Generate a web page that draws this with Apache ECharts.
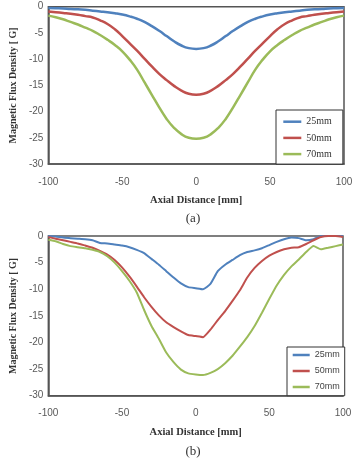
<!DOCTYPE html>
<html><head><meta charset="utf-8">
<script src="https://cdn.jsdelivr.net/npm/echarts@6/dist/echarts.min.js"></script>
<style>html,body{margin:0;padding:0;background:#fff}#c{width:356px;height:460px}</style>
</head><body><div id="c"></div>
<script>
// Axial positions [mm]
const xs = [-100,-95,-90,-85,-80,-75,-70,-65,-60,-55,-50,-45,-40,-35,-30,-25,-20,-15,-10,-5,0,5,10,15,20,25,30,35,40,45,50,55,60,65,70,75,80,85,90,95,100];
const xTicks = [-100,-50,0,50,100];
const yTicks = [0,-5,-10,-15,-20,-25,-30];
const names = ['25mm','50mm','70mm'];

// (a) simulated
const simA25 = [-0.25,-0.3,-0.35,-0.45,-0.5,-0.6,-0.75,-0.9,-1.05,-1.25,-1.5,-1.85,-2.3,-2.9,-3.7,-4.6,-5.6,-6.6,-7.4,-7.9,-8.05,-7.9,-7.4,-6.6,-5.6,-4.6,-3.7,-2.9,-2.3,-1.85,-1.5,-1.25,-1.05,-0.9,-0.75,-0.6,-0.5,-0.45,-0.35,-0.3,-0.25];
const simA50 = [-0.9,-1.05,-1.2,-1.35,-1.55,-1.8,-2.05,-2.6,-3.3,-4.3,-5.6,-7.0,-8.4,-9.9,-11.4,-12.8,-14.0,-15.1,-16.0,-16.6,-16.8,-16.6,-16.0,-15.1,-14.0,-12.8,-11.4,-9.9,-8.4,-7.0,-5.6,-4.3,-3.3,-2.6,-2.05,-1.8,-1.55,-1.35,-1.2,-1.05,-0.9];
const simA70 = [-1.7,-2.0,-2.4,-2.9,-3.4,-4.0,-4.6,-5.4,-6.3,-7.3,-8.5,-10.1,-12.0,-14.4,-16.8,-19.2,-21.4,-23.1,-24.3,-25.0,-25.2,-25.0,-24.3,-23.1,-21.4,-19.2,-16.8,-14.4,-12.0,-10.1,-8.5,-7.3,-6.3,-5.4,-4.6,-4.0,-3.4,-2.9,-2.4,-2.0,-1.7];

// (b) measured
const meas25 = [0,-0.1,-0.3,-0.4,-0.5,-0.6,-0.8,-1.3,-1.4,-1.6,-1.8,-2.1,-2.6,-3.2,-4.3,-5.4,-6.6,-7.8,-8.9,-9.6,-9.8,-10.0,-9.0,-6.6,-5.4,-4.5,-3.6,-3.0,-2.7,-2.3,-1.7,-1.1,-0.6,-0.3,-0.4,-0.8,-0.6,0,0,0,0];
const meas50 = [-0.2,-0.5,-0.8,-1.1,-1.4,-1.8,-2.2,-2.8,-3.5,-4.5,-5.9,-7.6,-9.5,-11.5,-13.3,-14.9,-16.2,-17.1,-17.9,-18.6,-18.8,-19.0,-17.6,-15.8,-14.1,-12.2,-10.2,-7.8,-6.0,-4.7,-3.7,-3.0,-2.5,-2.2,-2.1,-1.5,-0.8,-0.2,0,0,-0.2];
const meas70 = [-0.7,-1.0,-1.5,-1.9,-2.1,-2.3,-2.6,-3.0,-3.8,-5.0,-6.6,-8.4,-10.6,-13.9,-16.9,-19.3,-21.9,-23.7,-25.1,-25.8,-26.0,-26.1,-25.7,-25.0,-23.9,-22.5,-20.8,-19.0,-16.9,-14.4,-11.8,-9.3,-7.3,-5.7,-4.4,-3.0,-1.9,-2.5,-2.2,-1.9,-1.6];

const colors = ['#4F81BD','#C0504D','#9BBB59'];
const pairs = arr => xs.map((x,i)=>[x,arr[i]]);
const serif = 'Liberation Serif';
const sans = 'Liberation Sans';

const grids = [
  {left:42, top:6.7, width:302, height:157.3},
  {left:42, top:236, width:301, height:159.7}
];
function xAx(i){return {gridIndex:i,type:'value',min:xTicks[0],max:xTicks[xTicks.length-1],interval:50,
  name:'Axial Distance [mm]',nameLocation:'middle',nameGap:31,
  nameTextStyle:{fontFamily:serif,fontWeight:'bold',fontSize:10.5,color:'#333'},
  axisLine:{show:true,onZero:false,lineStyle:{color:'#555',width:1.5}},axisTick:{show:false},splitLine:{show:false},
  axisLabel:{margin:13,fontFamily:sans,fontSize:10,color:'#595959'}};}
function yAx(i){return {gridIndex:i,type:'value',min:yTicks[yTicks.length-1],max:yTicks[0],interval:5,
  name:'Magnetic Flux Density [ G]',nameLocation:'middle',nameGap:30,
  nameTextStyle:{fontFamily:serif,fontWeight:'bold',fontSize:10,color:'#333'},
  axisLine:{show:true,onZero:false,lineStyle:{color:'#555',width:1.5}},axisTick:{show:false},splitLine:{show:false},
  axisLabel:{margin:5,fontFamily:sans,fontSize:10,color:'#595959'}};}

const series = [];
[simA25,simA50,simA70].forEach((d,k)=>series.push({name:names[k],type:'line',xAxisIndex:0,yAxisIndex:0,
  data:pairs(d),smooth:true,showSymbol:false,lineStyle:{width:2.5,color:colors[k]},itemStyle:{color:colors[k]}}));
[meas25,meas50,meas70].forEach((d,k)=>series.push({name:names[k],type:'line',xAxisIndex:1,yAxisIndex:1,
  data:pairs(d),smooth:0.15,showSymbol:false,lineStyle:{width:2,color:colors[k]},itemStyle:{color:colors[k]}}));

const chart = echarts.init(document.getElementById('c'),null,{renderer:'canvas'});
chart.setOption({
  animation:false,
  backgroundColor:'#fff',
  grid:grids.map(g=>Object.assign({show:true,borderColor:'#555',borderWidth:1.5,backgroundColor:'#fff'},g)),
  xAxis:[xAx(0),xAx(1)],
  yAxis:[yAx(0),yAx(1)],
  legend:[
    {data:names,orient:'vertical',left:276,top:110,padding:[5.7,11,4,7.3],itemGap:4.2,
     icon:'rect',itemWidth:18,itemHeight:2.5,backgroundColor:'#fff',borderColor:'#333',borderWidth:1,
     textStyle:{fontFamily:serif,fontSize:10,color:'#333',lineHeight:12},selectedMode:false},
    {data:names,orient:'vertical',left:287,top:347,padding:[2,5,2.7,5.7],itemGap:4,
     icon:'rect',itemWidth:17,itemHeight:2.5,backgroundColor:'#fff',borderColor:'#333',borderWidth:1,
     textStyle:{fontFamily:sans,fontSize:9,color:'#444',lineHeight:12},selectedMode:false}
  ],
  graphic:[
    {type:'text',x:193,y:219,style:{text:'(a)',font:'13px "Liberation Serif"',fill:'#333',textAlign:'center',textVerticalAlign:'middle'}},
    {type:'text',x:193,y:452,style:{text:'(b)',font:'13px "Liberation Serif"',fill:'#333',textAlign:'center',textVerticalAlign:'middle'}}
  ],
  series:series
});
</script></body></html>
